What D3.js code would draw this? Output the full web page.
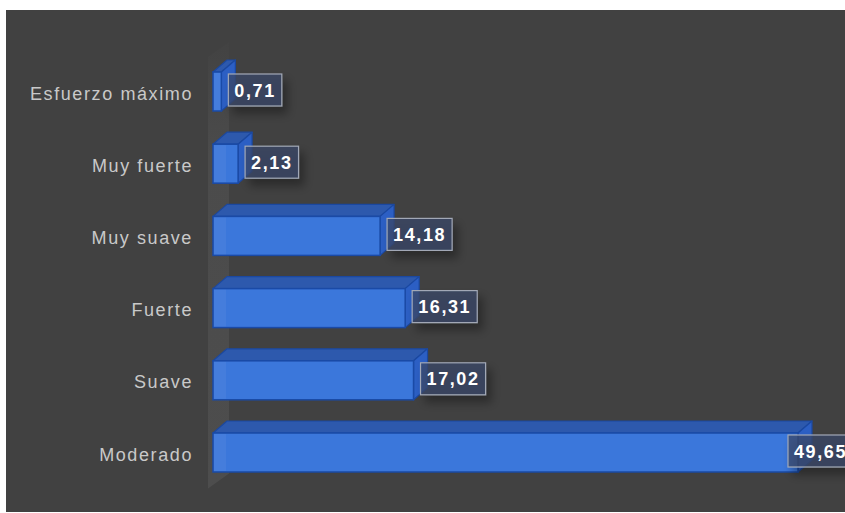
<!DOCTYPE html>
<html>
<head>
<meta charset="utf-8">
<script src="https://cdn.jsdelivr.net/npm/d3@7"></script>
<style>
  html, body { margin: 0; padding: 0; background: #ffffff; }
  svg { display: block; }
</style>
</head>
<body>
<svg id="chart" width="845" height="513"></svg>
<script>
// ---- data ----
const categories = ["Esfuerzo máximo", "Muy fuerte", "Muy suave", "Fuerte", "Suave", "Moderado"];
const values = [0.71, 2.13, 14.18, 16.31, 17.02, 49.65];
const valueLabels = ["0,71", "2,13", "14,18", "16,31", "17,02", "49,65"];

// ---- layout ----
const W = 845, H = 513;
const panel = { x: 6, y: 10, w: 839, h: 502 };
const plotLeft = 213, plotTop = 55.4, plotBottom = 488.6;
const depthBar = { dx: 14, dy: -12 };
const depthWall = { dx: 21, dy: -15 };

const svg = d3.select("#chart");
const defs = svg.append("defs");

const shadow = defs.append("filter").attr("id", "lblShadow")
  .attr("x", "-30%").attr("y", "-30%").attr("width", "170%").attr("height", "190%");
shadow.append("feDropShadow").attr("dx", 5).attr("dy", 7).attr("stdDeviation", 5)
  .attr("flood-color", "#000").attr("flood-opacity", 0.45);

const wallGrad = defs.append("linearGradient").attr("id", "wallGrad")
  .attr("x1", 0).attr("y1", 0).attr("x2", 0).attr("y2", 1);
wallGrad.append("stop").attr("offset", "0%").attr("stop-color", "#4b4b4b").attr("stop-opacity", 0.15);
wallGrad.append("stop").attr("offset", "25%").attr("stop-color", "#4b4b4b").attr("stop-opacity", 1);
wallGrad.append("stop").attr("offset", "100%").attr("stop-color", "#4d4d4d").attr("stop-opacity", 1);

// background panel
svg.append("rect").attr("x", panel.x).attr("y", panel.y)
  .attr("width", panel.w).attr("height", panel.h).attr("fill", "#414141");

// scales
const x = d3.scaleLinear().domain([0, d3.max(values)]).range([plotLeft, 798]);
const y = d3.scaleBand().domain(categories).range([plotTop, plotBottom])
  .paddingInner(0.46).paddingOuter(0.23);

// 3D side wall
const wx = plotLeft - 5;
svg.append("path")
  .attr("d", `M${wx},${plotBottom} L${wx},${plotTop + 1.6} L${wx + depthWall.dx},${plotTop + 1.6 + depthWall.dy} L${wx + depthWall.dx},${plotBottom + depthWall.dy} Z`)
  .attr("fill", "url(#wallGrad)");

// category labels
svg.append("g").selectAll("text").data(categories).join("text")
  .attr("x", plotLeft - 20)
  .attr("y", d => y(d) + y.bandwidth() / 2 + 8)
  .attr("text-anchor", "end")
  .attr("font-family", "'Liberation Sans', Arial, sans-serif")
  .attr("font-size", 18)
  .attr("letter-spacing", "1.6px")
  .attr("fill", "#c9c9c9")
  .text(d => d);

// bars
const bars = svg.append("g").selectAll("g").data(values).join("g");
bars.each(function (v, i) {
  const g = d3.select(this);
  const x0 = x(0), x1 = x(v);
  const y0 = y(categories[i]), bh = y.bandwidth();
  const dx = depthBar.dx, dy = depthBar.dy;
  // top face
  g.append("path")
    .attr("d", `M${x0},${y0} L${x0 + dx},${y0 + dy} L${x1 + dx},${y0 + dy} L${x1},${y0} Z`)
    .attr("fill", "#2d59ad").attr("stroke", "#1b48a0").attr("stroke-width", 1.2).attr("stroke-linejoin", "round");
  // right face
  g.append("path")
    .attr("d", `M${x1},${y0} L${x1 + dx},${y0 + dy} L${x1 + dx},${y0 + bh + dy} L${x1},${y0 + bh} Z`)
    .attr("fill", "#2c5fc4").attr("stroke", "#1b48a0").attr("stroke-width", 1.2).attr("stroke-linejoin", "round");
  // front face
  g.append("rect")
    .attr("x", x0).attr("y", y0).attr("width", x1 - x0).attr("height", bh)
    .attr("fill", "#3b77db").attr("stroke", "#1a4aa6").attr("stroke-width", 1.5);
  g.append("rect")
    .attr("x", x0 + 1).attr("y", y0 + 1).attr("width", Math.max(0, Math.min(12, x1 - x0 - 2))).attr("height", bh - 2)
    .attr("fill", "#ffffff").attr("opacity", 0.05);
});

// value labels
const labels = svg.append("g").selectAll("g").data(values).join("g");
labels.each(function (v, i) {
  const g = d3.select(this);
  const cy = y(categories[i]) + y.bandwidth() / 2 - 1.5;
  const rect = g.append("rect");
  const t = g.append("text")
    .attr("font-family", "'Liberation Sans', Arial, sans-serif")
    .attr("font-size", 18).attr("font-weight", "bold")
    .attr("letter-spacing", "1.6px")
    .attr("fill", "#ffffff")
    .text(valueLabels[i]);
  const tw = t.node().getComputedTextLength();
  const bw = tw + 12, bhgt = 32;
  let bx = x(v) + 7;
  if (bx + bw > W) bx = x(v) - 10;
  rect.attr("x", bx).attr("y", cy - bhgt / 2).attr("width", bw).attr("height", bhgt)
    .attr("fill", "rgba(56,72,104,0.74)").attr("stroke", "#a2a8b6").attr("stroke-width", 1.2)
    .attr("filter", "url(#lblShadow)");
  t.attr("x", bx + 6).attr("y", cy + 6.5);
});
</script>
</body>
</html>
